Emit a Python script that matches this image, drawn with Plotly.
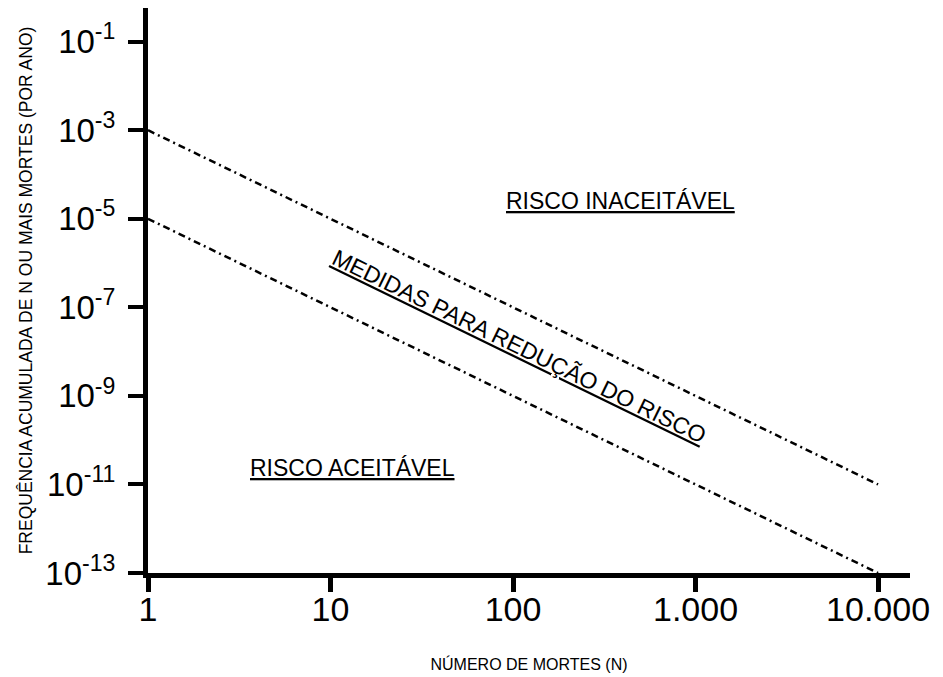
import plotly.graph_objects as go

# Data
deaths_ticks = [1, 10, 100, 1000, 10000]
deaths_ticktext = ["1", "10", "100", "1.000", "10.000"]
freq_ticks = [1e-1, 1e-3, 1e-5, 1e-7, 1e-9, 1e-11, 1e-13]
freq_ticktext = ["10<sup>-1</sup>", "10<sup>-3</sup>", "10<sup>-5</sup>", "10<sup>-7</sup>",
                 "10<sup>-9</sup>", "10<sup>-11</sup>", "10<sup>-13</sup>"]

upper_N = [1, 10000]
upper_F = [1e-3, 1e-11]
lower_N = [1, 10000]
lower_F = [1e-5, 1e-13]

FONT = "Liberation Sans, Arial, sans-serif"

fig = go.Figure()
line_style = dict(color="black", width=2.5, dash="7px,4px,2px,4px")
fig.add_trace(go.Scatter(x=upper_N, y=upper_F, mode="lines", line=line_style,
                         showlegend=False, hoverinfo="skip"))
fig.add_trace(go.Scatter(x=lower_N, y=lower_F, mode="lines", line=line_style,
                         showlegend=False, hoverinfo="skip"))

fig.add_annotation(x=2.59, y=-4.60, xref="x", yref="y", text="<u>RISCO INACEITÁVEL</u>",
                   showarrow=False, font=dict(family=FONT, size=23, color="black"))
fig.add_annotation(x=1.123, y=-10.63, xref="x", yref="y", text="<u>RISCO ACEITÁVEL</u>",
                   showarrow=False, font=dict(family=FONT, size=23, color="black"))
fig.add_annotation(x=2.03, y=-7.88, xref="x", yref="y", text="<u>MEDIDAS PARA REDUÇÃO DO RISCO</u>",
                   showarrow=False, textangle=26, font=dict(family=FONT, size=23, color="black"))

fig.update_layout(
    width=935, height=669,
    margin=dict(l=140, r=33, t=0, b=104),
    paper_bgcolor="white", plot_bgcolor="white",
    font=dict(family=FONT, color="black"),
    xaxis=dict(
        type="log", range=[0, 4.175], automargin=False,
        tickvals=deaths_ticks, ticktext=deaths_ticktext,
        tickfont=dict(family=FONT, size=34, color="black"),
        ticks="outside", ticklen=14, tickwidth=5, tickcolor="black",
        ticklabelstandoff=-12,
        showline=True, linewidth=5, linecolor="black",
        showgrid=False, zeroline=False,
        title=dict(text="NÚMERO DE MORTES (N)", font=dict(family=FONT, size=16, color="black"), standoff=34),
    ),
    yaxis=dict(
        type="log", range=[-13, -0.24], automargin=False,
        tickvals=freq_ticks, ticktext=freq_ticktext,
        tickfont=dict(family=FONT, size=33, color="black"),
        ticks="outside", ticklen=15, tickwidth=4, tickcolor="black",
        ticklabelstandoff=6,
        showline=True, linewidth=5, linecolor="black",
        showgrid=False, zeroline=False,
        title=dict(text="FREQUÊNCIA ACUMULADA DE N OU MAIS MORTES (POR ANO)",
                   font=dict(family=FONT, size=17.5, color="black"), standoff=10),
    ),
)

fig.write_html("out.html")
